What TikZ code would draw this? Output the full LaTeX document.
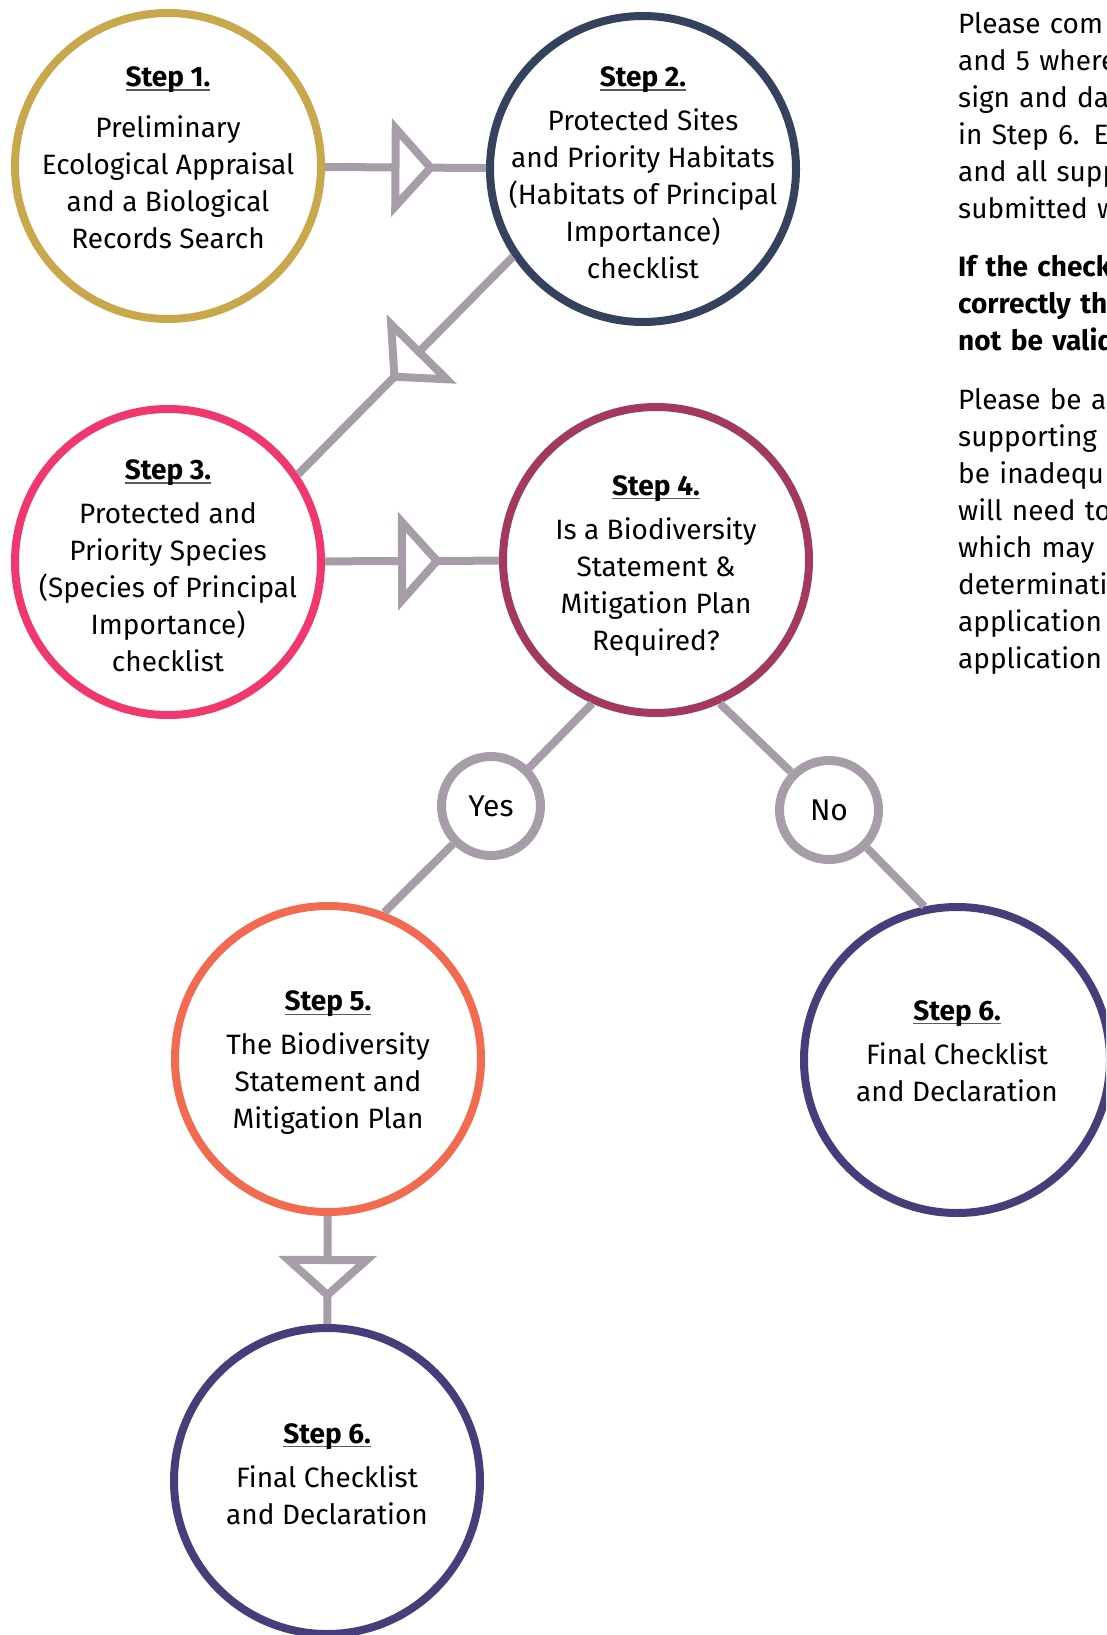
\documentclass[tikz,border=0pt]{standalone}
\usepackage{fontspec}
\setmainfont{Fira Sans}
\usetikzlibrary{decorations.markings}
\definecolor{stepGold}{HTML}{C8A84A}
\definecolor{stepNavy}{HTML}{34425E}
\definecolor{stepPink}{HTML}{F0386E}
\definecolor{stepPlum}{HTML}{A33961}
\definecolor{stepCoral}{HTML}{F26A4F}
\definecolor{stepIndigo}{HTML}{463E7B}
\definecolor{linkGrey}{HTML}{A79DA8}
\definecolor{underGrey}{HTML}{5A5A5A}
\newcommand{\stephead}[1]{\setbox0\hbox{\bfseries Step #1.}\rlap{\color{underGrey}\rule[-4pt]{\wd0}{1.4pt}}\box0}

\begin{document}
\begin{tikzpicture}[x=1pt,y=1pt,
  ring/.style={circle,draw=#1,line width=8pt,minimum size=306pt,inner sep=0pt},
  choice/.style={circle,draw=linkGrey,line width=9pt,minimum size=99pt,inner sep=0pt,font=\fontsize{30}{36}\selectfont},
  ringtext/.style={align=center,inner sep=0pt,font=\fontsize{28}{37}\selectfont},
  notetext/.style={align=left,text width=300pt,inner sep=0pt,font=\fontsize{28}{37}\selectfont},
  link/.style={draw=linkGrey,line width=8pt},
  midarrow/.style={link,postaction={decorate},
    decoration={markings,mark=at position #1 with {\draw[linkGrey,line width=8pt,fill=white,line join=miter] (-10,-39) -- (25,0) -- (-10,39) -- cycle;}}},
  midarrow/.default=0.5]
\useasboundingbox (0,0) rectangle (1106,-1635);
\clip (0,0) rectangle (1106,-1635);
\fill[white] (0,0) rectangle (1106,-1635);

% steps
\node[ring=stepGold] (s1) at (168,-166) {};
\node[ring=stepNavy] (s2) at (643,-169) {};
\node[ring=stepPink] (s3) at (168,-562) {};
\node[ring=stepPlum] (s4) at (656,-560) {};
\node[ring=stepCoral] (s5) at (328,-1059) {};
\node[ring=stepIndigo] (s6r) at (957,-1060) {};
\node[ring=stepIndigo] (s6b) at (327,-1481) {};

% answers
\node[choice] (yes) at (491,-806) {Yes};
\node[choice] (no) at (829,-810) {No};

% texts inside the rings
\node[ringtext] (t1) at ([yshift=8]s1) {\stephead{1}\\[14pt] Preliminary\\ Ecological Appraisal\\ and a Biological\\ Records Search};
\node[ringtext] (t2) at ([yshift=-4]s2) {\stephead{2}\\[7pt] Protected Sites\\ and Priority Habitats\\ (Habitats of Principal\\ Importance)\\ checklist};
\node[ringtext] (t3) at ([yshift=-4]s3) {\stephead{3}\\[7pt] Protected and\\ Priority Species\\ (Species of Principal\\ Importance)\\ checklist};
\node[ringtext] (t4) at ([yshift=-6]s4) {\stephead{4}\\[7pt] Is a Biodiversity\\ Statement \&\\ Mitigation Plan\\ Required?};
\node[ringtext] (t5) at ([yshift=-4]s5) {\stephead{5}\\[7pt] The Biodiversity\\ Statement and\\ Mitigation Plan};
\node[ringtext] (t6r) at ([yshift=9]s6r) {\stephead{6}\\[7pt] Final Checklist\\ and Declaration};
\node[ringtext] (t6b) at ([yshift=7]s6b) {\stephead{6}\\[7pt] Final Checklist\\ and Declaration};

% connectors
\draw[midarrow] (s1) -- (s2);
\draw[midarrow=0.47] (s2.214) -- (s3.34);
\draw[midarrow] (s3) -- (s4);
\draw[link] (s4.246) -- (yes.45);
\draw[link] (yes.225) -- (s5.69);
\draw[link] (s4.294) -- (no.135);
\draw[link] (no.315) -- (s6r.102);
\draw[midarrow] (s5) -- (s6b);

% notes on the right (cut by the page edge)
\node[notetext,anchor=base west] (note1) at (958,-33.5) {Please com\\ and 5 where\\ sign and da\\ in Step 6. E\\ and all supp\\ submitted w};
\node[notetext,anchor=base west,font=\fontsize{28}{37}\selectfont\bfseries] (note2) at (958,-276.5) {If the check\\ correctly th\\ not be valid};
\node[notetext,anchor=base west] (note3) at (958,-409.5) {Please be a\\ supporting\\ be inadequ\\ will need to\\ which may\\ determinati\\ application\\ application};
\end{tikzpicture}
\end{document}
